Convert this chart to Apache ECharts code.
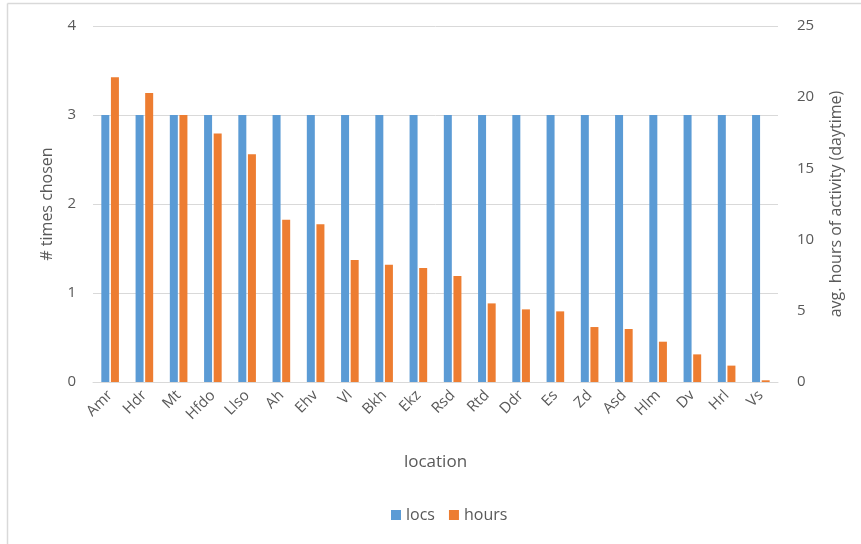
<!DOCTYPE html>
<html><head><meta charset="utf-8">
<script src="https://cdn.jsdelivr.net/npm/echarts@6/dist/echarts.min.js"></script>
<style>html,body{margin:0;padding:0;background:#fff}#c{width:861px;height:544px}</style>
</head><body><div id="c"></div>
<script>
const categories = ['Amr','Hdr','Mt','Hfdo','Llso','Ah','Ehv','Vl','Bkh','Ekz','Rsd','Rtd','Ddr','Es','Zd','Asd','Hlm','Dv','Hrl','Vs'];
const locs = [3,3,3,3,3,3,3,3,3,3,3,3,3,3,3,3,3,3,3,3];
const hours = [21.4,20.3,18.75,17.45,16.0,11.4,11.07,8.57,8.24,8.0,7.44,5.52,5.1,4.96,3.86,3.72,2.83,1.94,1.15,0.12];
const leftTicks = [0,1,2,3,4];
const rightTicks = [0,5,10,15,20,25];

const txt = '#595959';
const font = 'Open Sans';
const chart = echarts.init(document.getElementById('c'), null, {renderer:'canvas'});
chart.setOption({
  animation:false,
  textStyle:{fontFamily:font},
  graphic:[
    {type:'line', shape:{x1:7.5,y1:3.5,x2:7.5,y2:544}, style:{stroke:'#d9d9d9',lineWidth:1.5}},
    {type:'line', shape:{x1:7.5,y1:3.5,x2:861,y2:3.5}, style:{stroke:'#d9d9d9',lineWidth:1.5}}
  ],
  grid:{left:93,right:83,top:26,bottom:162},
  legend:{
    data:['locs','hours'], bottom:16, left:386, itemWidth:10, itemHeight:10, itemGap:14,
    icon:'rect', textStyle:{color:txt,fontSize:16,fontFamily:font}
  },
  xAxis:{
    type:'category', data:categories,
    name:'location', nameLocation:'middle', nameGap:72,
    nameTextStyle:{color:txt,fontSize:17,fontFamily:font},
    axisLine:{lineStyle:{color:'#d9d9d9'}}, axisTick:{show:false},
    axisLabel:{rotate:45, color:txt, fontSize:15, fontFamily:font, interval:0, margin:11}
  },
  yAxis:[
    {type:'value', min:0, max:4, interval:1,
     name:'# times chosen', nameLocation:'middle', nameGap:38, nameRotate:90,
     nameTextStyle:{color:txt,fontSize:16,fontFamily:font},
     axisLabel:{color:txt,fontSize:15,fontFamily:font,margin:17, formatter:v=>leftTicks.includes(v)?String(v):''},
     splitLine:{lineStyle:{color:'#d9d9d9'}}, axisLine:{show:false}, axisTick:{show:false}},
    {type:'value', min:0, max:25, interval:5,
     name:'avg. hours of activity (daytime)', nameLocation:'middle', nameGap:50, nameRotate:90,
     nameTextStyle:{color:txt,fontSize:16,fontFamily:font},
     axisLabel:{color:txt,fontSize:15,fontFamily:font,margin:19, formatter:v=>rightTicks.includes(v)?String(v):''},
     splitLine:{show:false}, axisLine:{show:false}, axisTick:{show:false}}
  ],
  series:[
    {name:'locs', type:'bar', yAxisIndex:0, data:locs, barWidth:8, barGap:'20%',
     itemStyle:{color:'#5b9bd5'}},
    {name:'hours', type:'bar', yAxisIndex:1, data:hours, barWidth:8,
     itemStyle:{color:'#ed7d31'}}
  ]
});
</script></body></html>
